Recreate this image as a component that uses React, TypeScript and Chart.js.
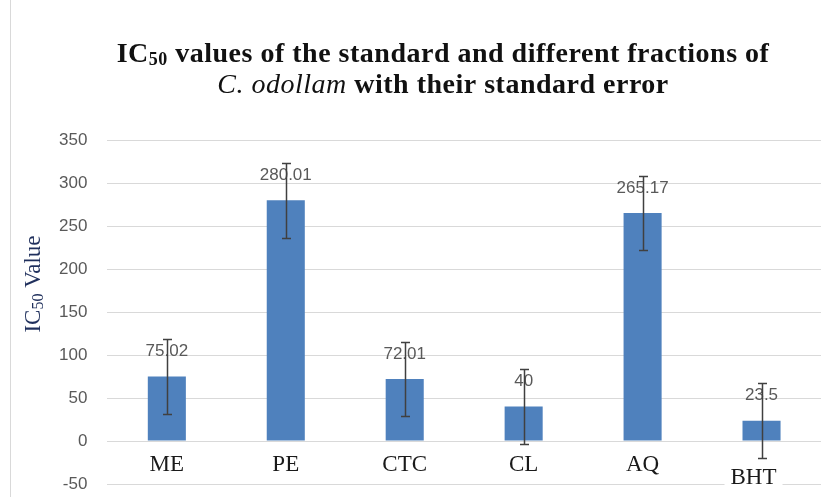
import React, { useEffect, useRef } from "react";
import { Chart, registerables } from "chart.js";

Chart.register(...registerables);

const categories = ["ME", "PE", "CTC", "CL", "AQ", "BHT"];
const ic50Values = [75.02, 280.01, 72.01, 40, 265.17, 23.5];
const standardErrors = [43.5, 43.5, 43.5, 43.5, 43.5, 43.5];
const valueLabels = ["75.02", "280.01", "72.01", "40", "265.17", "23.5"];
const yMin = -50;
const yMax = 350;
const yStep = 50;

const SERIF = '"Liberation Serif", "Times New Roman", serif';
const SANS = '"Liberation Sans", Arial, sans-serif';

type Run = { text: string; font: string; dy?: number };

function drawRuns(ctx: CanvasRenderingContext2D, runs: Run[], cx: number, y: number, spacing = 0) {
  (ctx as any).letterSpacing = `${spacing}px`;
  let total = 0;
  const widths = runs.map((r) => {
    ctx.font = r.font;
    const w = ctx.measureText(r.text).width;
    total += w;
    return w;
  });
  let x = cx - total / 2;
  ctx.textAlign = "left";
  ctx.textBaseline = "alphabetic";
  runs.forEach((r, i) => {
    ctx.font = r.font;
    ctx.fillText(r.text, x, y + (r.dy || 0));
    x += widths[i];
  });
  (ctx as any).letterSpacing = "0px";
}

const customPlugin = {
  id: "customDraw",
  afterDraw(chart: any) {
    const ctx: CanvasRenderingContext2D = chart.ctx;
    const xs = chart.scales.x;
    const ys = chart.scales.y;
    const meta = chart.getDatasetMeta(0);
    const zero = ys.getPixelForValue(0);
    ctx.save();

    // frame line on left
    ctx.strokeStyle = "#d9d9d9";
    ctx.lineWidth = 1;
    ctx.beginPath();
    ctx.moveTo(10.5, 0);
    ctx.lineTo(10.5, chart.height);
    ctx.stroke();

    // data labels
    ctx.fillStyle = "#595959";
    ctx.font = `17px ${SANS}`;
    ctx.textAlign = "center";
    ctx.textBaseline = "middle";
    meta.data.forEach((bar: any, i: number) => {
      ctx.fillText(valueLabels[i], bar.x, bar.y - 25);
    });

    // error bars
    ctx.strokeStyle = "#404040";
    ctx.lineWidth = 1.5;
    meta.data.forEach((bar: any, i: number) => {
      const top = Math.round(ys.getPixelForValue(ic50Values[i] + standardErrors[i])) + 0.5;
      const bot = Math.round(ys.getPixelForValue(ic50Values[i] - standardErrors[i])) + 0.5;
      const cx = Math.round(bar.x) + 0.5;
      ctx.beginPath();
      ctx.moveTo(cx, top);
      ctx.lineTo(cx, bot);
      ctx.moveTo(cx - 4.5, top);
      ctx.lineTo(cx + 4.5, top);
      ctx.moveTo(cx - 4.5, bot);
      ctx.lineTo(cx + 4.5, bot);
      ctx.stroke();
    });

    // category labels
    ctx.font = `23px ${SERIF}`;
    ctx.textAlign = "center";
    ctx.textBaseline = "alphabetic";
    categories.forEach((c, i) => {
      const last = i === categories.length - 1;
      const px = xs.getPixelForValue(i) + (last ? -8 : 0);
      const py = zero + 30 + (last ? 13 : 0);
      const w = ctx.measureText(c).width;
      ctx.fillStyle = "#ffffff";
      ctx.fillRect(px - w / 2 - 6, py - 19, w + 12, 26);
      ctx.fillStyle = "#1a1a1a";
      ctx.fillText(c, px, py);
    });

    // title
    ctx.fillStyle = "#111111";
    const tb = `bold 28px ${SERIF}`;
    const ts = `bold 18px ${SERIF}`;
    const ti = `italic 28px ${SERIF}`;
    drawRuns(
      ctx,
      [
        { text: "IC", font: tb },
        { text: "50", font: ts, dy: 3 },
        { text: " values of the standard and different fractions of", font: tb },
      ],
      443,
      62,
      0.5
    );
    drawRuns(
      ctx,
      [
        { text: "C. odollam", font: ti },
        { text: " with their standard error", font: tb },
      ],
      443,
      93,
      0.5
    );

    // y axis title
    ctx.save();
    ctx.translate(40, 284);
    ctx.rotate(-Math.PI / 2);
    ctx.fillStyle = "#1f2f5c";
    drawRuns(
      ctx,
      [
        { text: "IC", font: `23px ${SERIF}` },
        { text: "50", font: `16px ${SERIF}`, dy: 3 },
        { text: " Value", font: `23px ${SERIF}` },
      ],
      0,
      0
    );
    ctx.restore();

    ctx.restore();
  },
};

export default function App() {
  const canvasRef = useRef<HTMLCanvasElement | null>(null);

  useEffect(() => {
    document.body.style.margin = "0";
    const canvas = canvasRef.current;
    if (!canvas) return;
    const chart = new Chart(canvas, {
      type: "bar",
      data: {
        labels: categories,
        datasets: [
          {
            data: ic50Values,
            backgroundColor: "#4f81bd",
            borderWidth: 0,
            barPercentage: 0.32,
            categoryPercentage: 1,
          },
        ],
      },
      options: {
        responsive: true,
        maintainAspectRatio: false,
        animation: false,
        devicePixelRatio: 1,
        layout: { padding: { left: 39, right: 9, top: 140, bottom: 13 } },
        plugins: {
          legend: { display: false },
          tooltip: { enabled: false },
          title: { display: false },
        },
        scales: {
          x: {
            display: false,
          },
          y: {
            min: yMin,
            max: yMax,
            border: { display: false },
            grid: { color: "#d9d9d9", lineWidth: 1, drawTicks: false },
            ticks: {
              stepSize: yStep,
              padding: 20,
              color: "#595959",
              font: { family: SANS, size: 17 },
            },
            afterFit: (scale: any) => {
              scale.paddingTop = 0;
              scale.paddingBottom = 0;
            },
          },
        },
      },
      plugins: [customPlugin],
    });
    return () => chart.destroy();
  }, []);

  return (
    <div style={{ position: "relative", width: 830, height: 497, background: "#ffffff" }}>
      <canvas ref={canvasRef} />
    </div>
  );
}
